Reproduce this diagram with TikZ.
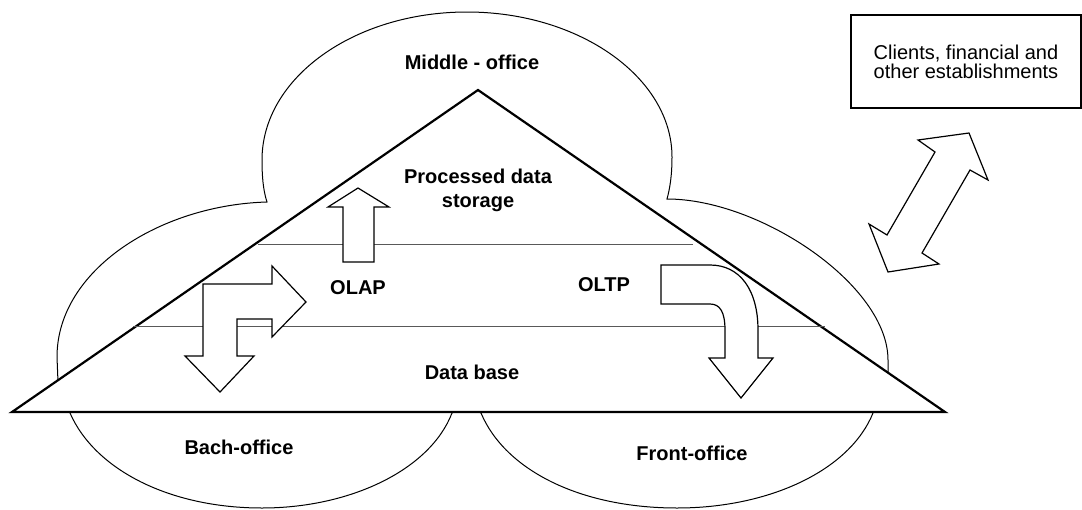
\documentclass[tikz,border=0pt]{standalone}
\usepackage{fontspec}
\setmainfont{Liberation Sans}

\tikzset{
    lobe/.style={draw=black, fill=white, line width=0.5pt},
    tri/.style={draw=black, fill=white, line width=1.1pt, line join=miter},
    layerline/.style={draw=black!65, line width=0.5pt},
    blockarrow/.style={draw=black, fill=white, line width=0.6pt, line join=miter},
    boldtext/.style={font=\fontsize{10}{12}\selectfont\bfseries, align=center}
}

\begin{document}
\begin{tikzpicture}[x=0.5pt, y=-0.5pt]
        \useasboundingbox (0,0) rectangle (1082,509);

        % 1. The cloud (five lobes, one outline)
        \draw[lobe] (267,202) .. controls (263,190) and (262,175) .. (262,160)
            .. controls (262,78) and (354,12) .. (467,12)      % top lobe
            .. controls (580,12) and (672,78) .. (672,157)
            .. controls (672,175) and (670,188) .. (667,199)
            .. controls (760,199) and (888,285) .. (888,360)   % right lobe
            -- (888,385) -- (873,413)
            .. controls (850,470) and (770,508) .. (677,508)   % bottom right lobe
            .. controls (580,508) and (505,470) .. (481,413)
            -- (466,405) -- (452,413)
            .. controls (430,470) and (350,508) .. (262,508)   % bottom left lobe
            .. controls (170,508) and (95,470) .. (70,413)
            -- (58,382) -- (57,357)
            .. controls (57,270) and (160,205) .. (267,202)    % left lobe
            -- cycle;

        % 2. The triangle
        \coordinate (apex)  at (478,90);    % Top
        \coordinate (baseL) at (12,412);    % Bottom Left
        \coordinate (baseR) at (945,412);   % Bottom Right
        \draw[tri] (apex) -- (baseL) -- (baseR) -- cycle;

        % 3. The layer lines
        \draw[layerline] (258,244) -- (693,244);
        \draw[layerline] (133,326) -- (825,326);

        % 4. The block arrows
        % up arrow
        \draw[blockarrow] (343,262) -- (343,207) -- (328,207) -- (358,188)
            -- (389,207) -- (374,207) -- (374,262) -- cycle;
        % bent arrow (right and down)
        \draw[blockarrow] (203,284) -- (272,284) -- (272,266) -- (306,302)
            -- (272,337) -- (272,319) -- (237,319) -- (237,356) -- (254,356)
            -- (220,392) -- (185,356) -- (203,356) -- cycle;
        % curved arrow
        \draw[blockarrow] (661,265) -- (710,265)
            .. controls (740,265) and (758,290) .. (758,330)
            -- (758,358) -- (773,358) -- (741,398) -- (709,358) -- (725,358)
            -- (725,330) .. controls (725,312) and (720,304) .. (710,304)
            -- (661,304) -- cycle;
        % double arrow
        \draw[blockarrow] (918,140) -- (935,152) -- (887,235) -- (869,224)
            -- (888,272) -- (939,264) -- (922,253) -- (970,170) -- (988,180)
            -- (969,133) -- cycle;

        % 5. The texts
        \node[draw, line width=1pt, minimum width=115pt, minimum height=46.7pt,
              inner sep=0pt, align=center, font=\fontsize{10}{9.5}\selectfont]
              (clients) at (966,61.7) {Clients, financial and\\other establishments};

        \node[boldtext] (middle)   at (472,62)  {Middle - office};
        \node[boldtext] (storage)  at (478,190) {Processed data\\storage};
        \node[boldtext] (olap)     at (358,288) {OLAP};
        \node[boldtext] (oltp)     at (604,285) {OLTP};
        \node[boldtext] (database) at (472,372) {Data base};
        \node[boldtext] (bach)     at (239,447) {Bach-office};
        \node[boldtext] (front)    at (692,453) {Front-office};

    \end{tikzpicture}
\end{document}
